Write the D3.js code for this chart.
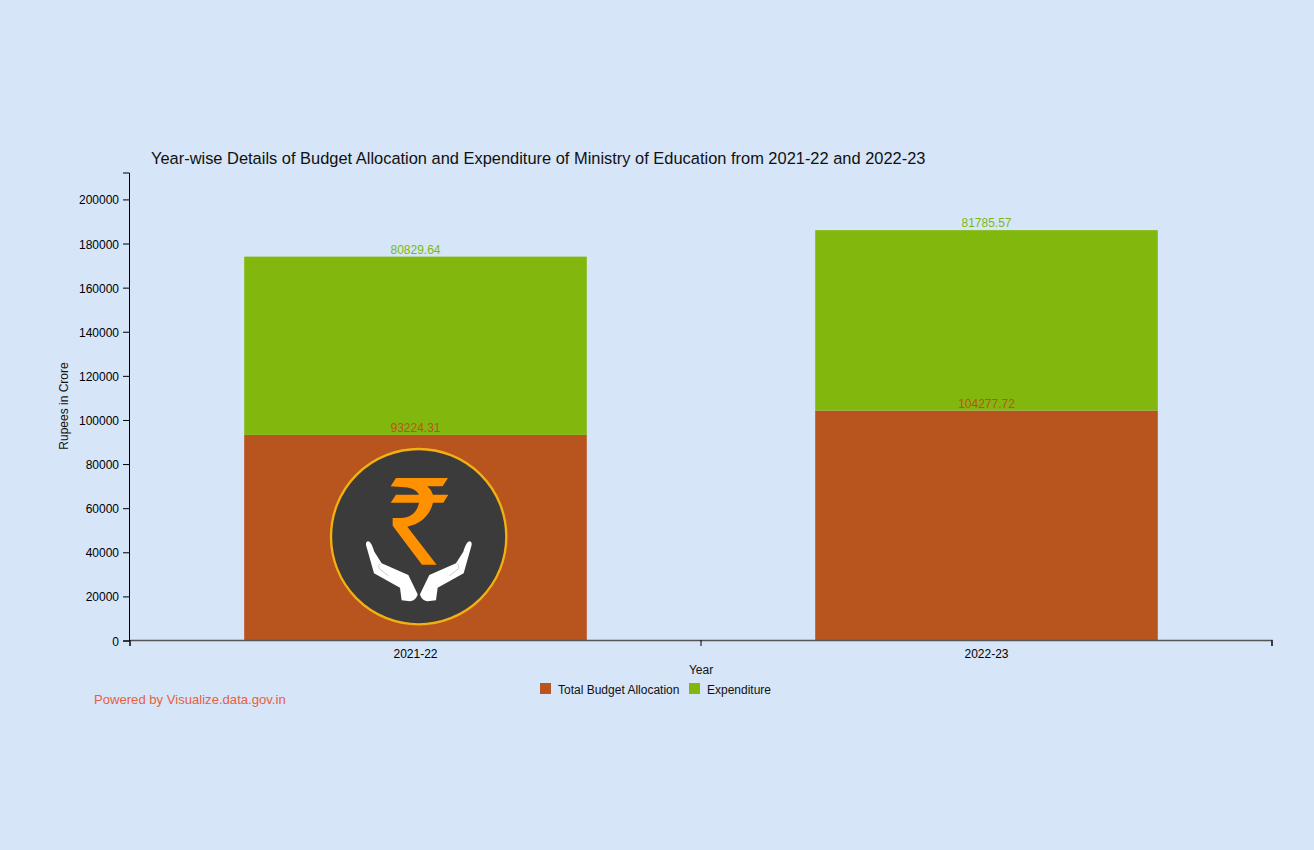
<!DOCTYPE html>
<html>
<head>
<meta charset="utf-8">
<script src="https://d3js.org/d3.v7.min.js"></script>
<style>
  html, body { margin: 0; padding: 0; background: #d6e5f8; }
  svg { display: block; font-family: "Liberation Sans", Arial, sans-serif; }
  .axis text { font-size: 12px; fill: #000; }
  .axis path, .axis line { stroke: #000; }
  .xaxis path { stroke: #555; stroke-width: 1.5; }
</style>
</head>
<body>
<div id="chart"></div>
<script>
var years = ["2021-22", "2022-23"];
var allocation = [93224.31, 104277.72];
var expenditure = [80829.64, 81785.57];
var seriesNames = ["Total Budget Allocation", "Expenditure"];
var seriesColors = ["#b8541e", "#82b80e"];
var yTicks = [0, 20000, 40000, 60000, 80000, 100000, 120000, 140000, 160000, 180000, 200000];
var yMax = 212200;

var width = 1314, height = 850;
var left = 130, right = 1272, top_ = 172.5, bottom = 640.5;

var svg = d3.select("#chart").append("svg")
    .attr("width", width)
    .attr("height", height);

var x = d3.scaleBand().domain(years).range([left, right]).paddingInner(0.4).paddingOuter(0.2);
var x2 = d3.scalePoint().domain(years).range([left, right]).padding(0.5);
var y = d3.scaleLinear().domain([0, yMax]).range([bottom, top_]);

var rows = years.map(function(d, i) {
    return { year: d, a: allocation[i], e: expenditure[i] };
});
var stacked = d3.stack().keys(["a", "e"])(rows);

// bars
stacked.forEach(function(layer, s) {
    svg.append("g").selectAll("rect")
        .data(layer)
        .join("rect")
        .attr("x", function(d) { return x(d.data.year); })
        .attr("y", function(d) { return y(d[1]); })
        .attr("width", x.bandwidth())
        .attr("height", function(d) { return y(d[0]) - y(d[1]); })
        .attr("fill", seriesColors[s]);
});

// value labels go on top of all the bars
stacked.forEach(function(layer, s) {
    svg.append("g").selectAll("text")
        .data(layer)
        .join("text")
        .attr("x", function(d) { return x(d.data.year) + x.bandwidth() / 2; })
        .attr("y", function(d) { return y(d[1]) - 3; })
        .attr("text-anchor", "middle")
        .attr("font-size", 12)
        .attr("fill", s == 0 ? "#b8541e" : "#7fb80e")
        .text(function(d) { return s == 0 ? d.data.a : d.data.e; });
});

// axes
var xAxis = d3.axisBottom(d3.scaleLinear().domain([0, 2]).range([left - 0.5, right - 0.5]))
    .tickValues([0, 1, 2]).tickFormat("").tickSizeOuter(0).tickSize(6);
svg.append("g").attr("class", "axis xaxis").attr("transform", "translate(0," + (bottom - 0.5) + ")").call(xAxis);

svg.append("g").selectAll("text")
    .data(years)
    .join("text")
    .attr("x", function(d) { return x2(d); })
    .attr("y", 658)
    .attr("text-anchor", "middle")
    .attr("font-size", 12)
    .attr("fill", "#000")
    .text(function(d) { return d; });

var yAxis = d3.axisLeft(y).tickValues(yTicks).tickFormat(d3.format("d")).tickSize(6).tickPadding(4);
var yG = svg.append("g").attr("class", "axis").attr("transform", "translate(" + (left - 1) + ",0)").call(yAxis);
yG.selectAll(".tick text").attr("y", 0.7);

// titles
svg.append("text").attr("x", 151).attr("y", 164)
    .attr("font-size", 16.43).attr("fill", "#111")
    .text("Year-wise Details of Budget Allocation and Expenditure of Ministry of Education from 2021-22 and 2022-23");

svg.append("text").attr("x", 701).attr("y", 674)
    .attr("text-anchor", "middle").attr("font-size", 12).attr("fill", "#111")
    .text("Year");

svg.append("text")
    .attr("transform", "translate(68,406) rotate(-90)")
    .attr("text-anchor", "middle").attr("font-size", 12).attr("fill", "#111")
    .text("Rupees in Crore");

// legend
var legendX = [540, 689];
seriesNames.forEach(function(name, i) {
    svg.append("rect").attr("x", legendX[i]).attr("y", 683)
        .attr("width", 11).attr("height", 11).attr("fill", seriesColors[i]);
    svg.append("text").attr("x", legendX[i] + 18).attr("y", 694)
        .attr("font-size", 12).attr("fill", "#111").text(name);
});

svg.append("text").attr("x", 94).attr("y", 704)
    .attr("font-size", 13.1).attr("fill", "#e8603c")
    .text("Powered by Visualize.data.gov.in");

// logo, path coordinates are in a 600px box
var logo = svg.append("g").attr("transform", "translate(320,440) scale(0.3333)");
logo.append("circle").attr("cx", 296).attr("cy", 290).attr("r", 263)
    .attr("fill", "#3b3b3b").attr("stroke", "#f4b010").attr("stroke-width", 7);
logo.append("path").attr("fill", "#ff9100")
    .attr("d", "M228 114 L384 114 L368 139 L322 139 Q335 150 339 164 L385 164 L370 188 L339 188 C330 226 302 252 262 260 L350 374 L306 374 L218 257 L218 234 L243 234 C272 234 292 216 297 188 L212 188 L228 164 L297 164 C290 150 272 141 243 141 L212 139 Z");
var hand = "M145 304 C152 306 158 318 163 335 L185 370 L265 405 L293 463 C290 475 282 483 270 484 L245 481 L240 443 L162 400 L138 315 C137 308 140 304 145 304 Z";
logo.append("path").attr("fill", "#fff").attr("d", hand);
logo.append("path").attr("fill", "#fff").attr("d", hand).attr("transform", "translate(593,0) scale(-1,1)");
var thumb = "M181 371 C175 376 175 384 181 389 L206 408";
logo.append("path").attr("fill", "none").attr("stroke", "#999").attr("stroke-width", 1.5).attr("d", thumb);
logo.append("path").attr("fill", "none").attr("stroke", "#999").attr("stroke-width", 1.5).attr("d", thumb).attr("transform", "translate(593,0) scale(-1,1)");
</script>
</body>
</html>
